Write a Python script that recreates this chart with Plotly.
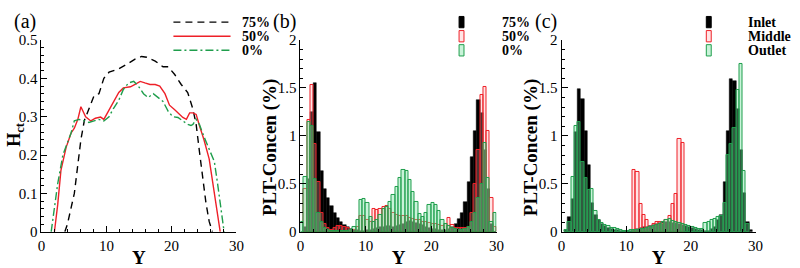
import plotly.graph_objects as go

# ---------------- Panel (a): H_ct profiles ----------------
a_x75 = [3.6, 4.0, 5.06, 6.07, 6.6, 7.3, 8.1, 8.85, 9.6, 10.4, 11.9, 13.2, 14.4, 15.4,
         16.2, 17.5, 18.7, 19.5, 20.5, 21.5, 22.5, 23.3, 23.8, 24.3, 24.8, 25.3, 25.8, 26.3]
a_h75 = [0.0, 0.02, 0.10, 0.24, 0.29, 0.32, 0.355, 0.36, 0.40, 0.416, 0.425, 0.437, 0.45, 0.457,
         0.455, 0.445, 0.43, 0.43, 0.41, 0.384, 0.363, 0.32, 0.28, 0.21, 0.14, 0.076, 0.027, 0.0]

a_x50 = [2.0, 2.5, 3.0, 3.8, 4.55, 5.06, 5.6, 6.07, 6.8, 7.6, 8.3, 9.1, 9.6, 10.4, 11.1, 11.9,
         12.6, 13.7, 14.4, 15.2, 15.9, 16.7, 17.5, 18.2, 19.0, 19.7, 20.5, 21.2, 21.75, 22.3,
         22.8, 23.3, 23.8, 24.3, 25.0, 25.8, 26.6, 27.1, 27.5]
a_h50 = [0.0, 0.07, 0.16, 0.22, 0.257, 0.27, 0.293, 0.326, 0.30, 0.289, 0.296, 0.299, 0.293,
         0.318, 0.34, 0.363, 0.375, 0.378, 0.384, 0.392, 0.388, 0.384, 0.384, 0.38, 0.36, 0.33,
         0.318, 0.306, 0.298, 0.293, 0.31, 0.31, 0.306, 0.277, 0.24, 0.19, 0.10, 0.043, 0.0]

a_x0 = [1.5, 2.0, 2.5, 3.3, 4.0, 4.55, 5.06, 5.8, 6.6, 7.3, 8.1, 8.85, 9.6, 10.4, 11.1, 11.9,
        12.6, 13.4, 14.2, 14.9, 15.7, 16.4, 17.2, 18.0, 18.7, 19.5, 20.2, 21.0, 21.75, 22.5,
        23.0, 23.3, 23.8, 24.3, 25.0, 25.8, 26.6, 27.1, 27.6, 28.1]
a_h0 = [0.0, 0.06, 0.125, 0.20, 0.232, 0.257, 0.289, 0.293, 0.289, 0.285, 0.289, 0.293, 0.289,
        0.30, 0.322, 0.343, 0.371, 0.388, 0.392, 0.38, 0.36, 0.35, 0.36, 0.35, 0.34, 0.314,
        0.30, 0.298, 0.288, 0.28, 0.277, 0.28, 0.293, 0.28, 0.248, 0.215, 0.183, 0.125, 0.06, 0.0]

a_names = ["75%", "50%", "0%"]

# ---------------- Histogram bins (0.5 wide, 0..30) ----------------
bin_width = 0.5
bin_centers = [0.25 + bin_width * i for i in range(60)]

# Panel (b)
b_75 = [0.00, 0.05, 0.55, 1.25, 1.55, 1.04, 0.63, 0.45, 0.35, 0.27,
        0.20, 0.14, 0.10, 0.07, 0.05, 0.03, 0.02, 0.02, 0.01, 0.01,
        0.02, 0.02, 0.03, 0.04, 0.05, 0.05, 0.06, 0.06, 0.05, 0.06,
        0.07, 0.08, 0.10, 0.11, 0.10, 0.09, 0.08, 0.07, 0.05, 0.04,
        0.03, 0.03, 0.02, 0.02, 0.02, 0.03, 0.05, 0.08, 0.13, 0.20,
        0.31, 0.52, 0.78, 1.05, 1.37, 1.24, 0.85, 0.45, 0.08, 0.00]
b_50 = [0.00, 0.45, 1.17, 1.53, 0.92, 0.52, 0.20, 0.08, 0.04, 0.02,
        0.04, 0.06, 0.06, 0.05, 0.04, 0.02, 0.02, 0.05, 0.17, 0.17,
        0.12, 0.10, 0.24, 0.23, 0.24, 0.26, 0.27, 0.24, 0.20, 0.18,
        0.17, 0.17, 0.17, 0.14, 0.13, 0.12, 0.12, 0.10, 0.10, 0.09,
        0.08, 0.08, 0.07, 0.06, 0.08, 0.14, 0.07, 0.04, 0.04, 0.04,
        0.04, 0.05, 0.20, 0.50, 0.85, 1.43, 1.51, 1.05, 0.35, 0.05]
b_0 = [0.10, 0.57, 1.14, 1.10, 0.55, 0.20, 0.10, 0.04, 0.02, 0.01,
       0.01, 0.01, 0.01, 0.01, 0.01, 0.02, 0.05, 0.12, 0.33, 0.34,
       0.30, 0.15, 0.10, 0.12, 0.18, 0.24, 0.26, 0.31, 0.38, 0.47,
       0.56, 0.64, 0.63, 0.54, 0.42, 0.31, 0.19, 0.15, 0.20, 0.28,
       0.30, 0.28, 0.22, 0.12, 0.08, 0.06, 0.04, 0.03, 0.02, 0.02,
       0.03, 0.05, 0.10, 0.20, 0.35, 0.50, 0.93, 0.56, 0.10, 0.20]
b_names = ["75%", "50%", "0%"]

# Panel (c)
c_inlet = [0.00, 0.02, 0.15, 0.34, 1.04, 1.49, 1.39, 1.05, 0.70, 0.30,
           0.18, 0.12, 0.08, 0.06, 0.04, 0.03, 0.02, 0.02, 0.01, 0.01,
           0.01, 0.01, 0.02, 0.03, 0.04, 0.05, 0.05, 0.06, 0.07, 0.08,
           0.09, 0.10, 0.10, 0.10, 0.09, 0.09, 0.08, 0.07, 0.06, 0.05,
           0.04, 0.03, 0.02, 0.02, 0.01, 0.01, 0.03, 0.05, 0.12, 0.18,
           0.52, 1.05, 1.59, 1.57, 1.28, 0.85, 0.40, 0.10, 0.02, 0.00]
c_middle = [0, 0, 0, 0, 0, 0, 0, 0, 0, 0,
            0, 0, 0, 0, 0, 0, 0, 0, 0, 0,
            0, 0, 0.64, 0.62, 0.29, 0.18, 0.12, 0.05, 0.08, 0.10,
            0.10, 0.08, 0.12, 0.16, 0.29, 0.39, 0.97, 0.93, 0, 0,
            0, 0, 0, 0, 0, 0, 0, 0, 0, 0,
            0, 0, 0, 0, 0, 0, 0, 0, 0, 0]
c_outlet = [0.00, 0.02, 0.10, 0.57, 1.10, 1.14, 0.73, 0.56, 0.44, 0.45,
            0.22, 0.12, 0.09, 0.07, 0.06, 0.04, 0.04, 0.03, 0.02, 0.01,
            0.01, 0.02, 0.02, 0.02, 0.03, 0.03, 0.04, 0.05, 0.06, 0.07,
            0.08, 0.10, 0.12, 0.13, 0.11, 0.10, 0.09, 0.08, 0.07, 0.06,
            0.05, 0.04, 0.03, 0.03, 0.09, 0.10, 0.12, 0.13, 0.15, 0.17,
            0.30, 0.80, 0.92, 1.08, 1.48, 1.75, 0.63, 0.08, 0.00, 0.00]
c_names = ["Inlet", "Middle", "Outlet"]

# ---------------- Styles ----------------
FONT = "Liberation Serif"
BLACK = "#000000"
RED = "#ee2028"
GREEN = "#1f9e4c"
bar_styles = [
    dict(color="black", line=dict(color="black", width=0.5)),
    dict(color="rgba(255,170,170,0.30)", line=dict(color=RED, width=1)),
    dict(color="rgba(120,225,160,0.40)", line=dict(color=GREEN, width=1)),
]
line_styles = [
    dict(color=BLACK, width=1.4, dash="7px,5px"),
    dict(color=RED, width=1.4),
    dict(color=GREEN, width=1.4, dash="8px,3px,2px,3px"),
]


def nz(vals):
    return [v if v > 0 else None for v in vals]


fig = go.Figure()

# Panel (a)
for xs, hs, nm, st in zip([a_x75, a_x50, a_x0], [a_h75, a_h50, a_h0], a_names, line_styles):
    fig.add_trace(go.Scatter(x=xs, y=hs, mode="lines", name=nm, line=st,
                             xaxis="x", yaxis="y", showlegend=False))

# Panel (b)
for vals, nm, st in zip([b_75, b_50, b_0], b_names, bar_styles):
    fig.add_trace(go.Bar(x=bin_centers, y=nz(vals), width=bin_width, name=nm, marker=st,
                         xaxis="x2", yaxis="y2", showlegend=False))

# Panel (c)
for vals, nm, st in zip([c_inlet, c_middle, c_outlet], c_names, bar_styles):
    fig.add_trace(go.Bar(x=bin_centers, y=nz(vals), width=bin_width, name=nm, marker=st,
                         xaxis="x3", yaxis="y3", showlegend=False))

W, H = 800, 268


def px_x(px):
    return px / W


def px_y(py):
    return 1 - py / H


y_dom = [px_y(238), px_y(34)]


def axis(domain, rng, dtick, minor_dtick, anchor, title=None):
    d = dict(
        domain=domain, range=rng, anchor=anchor, tick0=0, dtick=dtick,
        showline=True, linecolor="black", linewidth=1, mirror=False,
        ticks="inside", ticklen=6, tickwidth=1, tickcolor="black",
        minor=dict(ticks="inside", ticklen=3, tickwidth=1, tickcolor="black", dtick=minor_dtick),
        showgrid=False, zeroline=False, fixedrange=True,
        tickfont=dict(family=FONT, size=15, color="black"),
    )
    if title:
        d["title"] = dict(text=title, font=dict(family=FONT, size=19, color="black"), standoff=0)
    return d


layout = dict(
    width=W, height=H, margin=dict(l=0, r=0, t=0, b=0),
    paper_bgcolor="white", plot_bgcolor="white", barmode="overlay", bargap=0,
    showlegend=False,
    xaxis=axis([px_x(38), px_x(236)], [0, 30], 10, 2, "y", "<b>Y</b>"),
    yaxis=axis(y_dom, [0, 0.5], 0.1, 0.02, "x"),
    xaxis2=axis([px_x(301), px_x(500)], [0, 30], 10, 2, "y2", "<b>Y</b>"),
    yaxis2=axis(y_dom, [0, 2], 0.5, 0.1, "x2"),
    xaxis3=axis([px_x(566), px_x(763)], [0, 30], 10, 2, "y3", "<b>Y</b>"),
    yaxis3=axis(y_dom, [0, 2], 0.5, 0.1, "x3"),
)
fig.update_layout(**layout)

# Y-axis titles (rotated)
for txt, xp, yp, sz in [("<b>H</b><sub><b>ct</b></sub>", 11, 134, 18),
                        ("<b>PLT-Concen (%)</b>", 270, 148, 19),
                        ("<b>PLT-Concen (%)</b>", 535, 148, 19)]:
    fig.add_annotation(text=txt, x=px_x(xp), y=px_y(yp), xref="paper", yref="paper",
                       xanchor="center", yanchor="middle", textangle=-90, showarrow=False,
                       font=dict(family=FONT, size=sz, color="black"))

# Panel labels
for lbl, xp in [("(a)", 21), ("(b)", 285), ("(c)", 550)]:
    fig.add_annotation(text=lbl, x=px_x(xp), y=px_y(14), xref="paper", yref="paper",
                       xanchor="center", yanchor="middle", showarrow=False,
                       font=dict(family=FONT, size=20, color="black"))

# Legends (drawn in paper coordinates)
row_y = [15, 30, 45]
leg_font = dict(family=FONT, size=14, color="black")
# (a) line legend
for nm, st, ry in zip(a_names, line_styles, row_y):
    fig.add_shape(type="line", xref="paper", yref="paper", x0=px_x(172), x1=px_x(230),
                  y0=px_y(ry), y1=px_y(ry), line=st)
    fig.add_annotation(text="<b>" + nm + "</b>", x=px_x(240), y=px_y(ry), xref="paper", yref="paper",
                       xanchor="left", yanchor="middle", showarrow=False, font=leg_font)
# (b), (c) bar legends
for names, ix, tx in [(b_names, 462, 504), (c_names, 713, 753)]:
    for nm, st, ry in zip(names, bar_styles, row_y):
        fig.add_shape(type="rect", xref="paper", yref="paper", x0=px_x(ix), x1=px_x(ix + 5),
                      y0=px_y(ry + 6), y1=px_y(ry - 6), fillcolor=st["color"],
                      line=dict(color=st["line"]["color"], width=1))
        fig.add_annotation(text="<b>" + nm + "</b>", x=px_x(tx), y=px_y(ry), xref="paper", yref="paper",
                           xanchor="left", yanchor="middle", showarrow=False, font=leg_font)

fig.write_html("out.html", config={"displayModeBar": False},
               post_script="document.body.style.margin='0';document.body.style.overflow='hidden';")
